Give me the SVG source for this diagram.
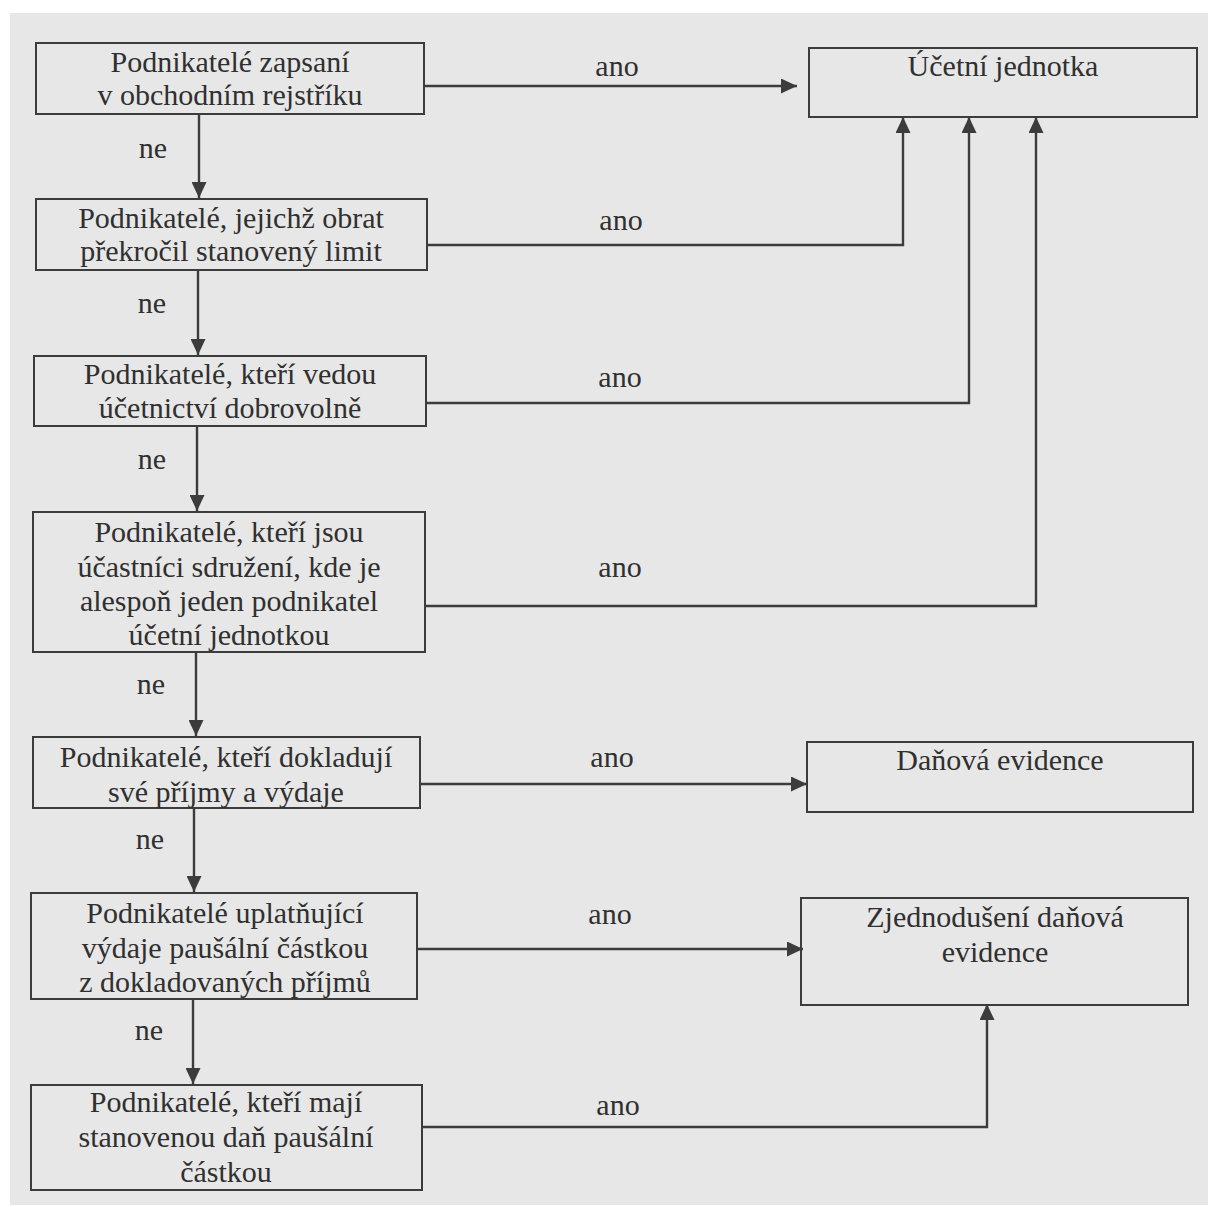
<svg xmlns="http://www.w3.org/2000/svg" width="1208" height="1207" viewBox="0 0 1208 1207">
<defs>
<style>
.box{fill:none;stroke:#3c3c3c;stroke-width:2}
.t{font-family:"Liberation Serif","Times New Roman",serif;font-size:30px;fill:#303030;text-anchor:middle}
.c{fill:none;stroke:#3c3c3c;stroke-width:2.4}
</style>
<marker id="ah" markerUnits="userSpaceOnUse" markerWidth="16" markerHeight="15" refX="16" refY="7.5" orient="auto">
<path d="M0,0 L16,7.5 L0,15 z" fill="#3c3c3c"/>
</marker>
</defs>
<rect x="0" y="0" width="1208" height="1207" fill="#ffffff"/>
<rect x="10" y="13" width="1198" height="1192" fill="#e7e7e7"/>

<g id="n1">
<rect class="box" x="36" y="43" width="388" height="71"/>
<text class="t" x="230" y="72">Podnikatelé zapsaní</text>
<text class="t" x="230" y="105">v obchodním rejstříku</text>
</g>
<g id="n2">
<rect class="box" x="36" y="199" width="391" height="71"/>
<text class="t" x="231" y="228">Podnikatelé, jejichž obrat</text>
<text class="t" x="231" y="261">překročil stanovený limit</text>
</g>
<g id="n3">
<rect class="box" x="34" y="356" width="392" height="70"/>
<text class="t" x="230" y="384">Podnikatelé, kteří vedou</text>
<text class="t" x="230" y="418">účetnictví dobrovolně</text>
</g>
<g id="n4">
<rect class="box" x="33" y="512" width="392" height="140"/>
<text class="t" x="229" y="542">Podnikatelé, kteří jsou</text>
<text class="t" x="229" y="577">účastníci sdružení, kde je</text>
<text class="t" x="229" y="611">alespoň jeden podnikatel</text>
<text class="t" x="229" y="645">účetní jednotkou</text>
</g>
<g id="n5">
<rect class="box" x="33" y="737" width="387" height="71"/>
<text class="t" x="226" y="767">Podnikatelé, kteří dokladují</text>
<text class="t" x="226" y="802">své příjmy a výdaje</text>
</g>
<g id="n6">
<rect class="box" x="31" y="893" width="386" height="106"/>
<text class="t" x="225" y="923">Podnikatelé uplatňující</text>
<text class="t" x="225" y="958">výdaje paušální částkou</text>
<text class="t" x="225" y="992">z dokladovaných příjmů</text>
</g>
<g id="n7">
<rect class="box" x="31" y="1085" width="391" height="105"/>
<text class="t" x="226" y="1112">Podnikatelé, kteří mají</text>
<text class="t" x="226" y="1147">stanovenou daň paušální</text>
<text class="t" x="226" y="1182">částkou</text>
</g>
<g id="r1">
<rect class="box" x="809" y="48" width="388" height="69"/>
<text class="t" x="1003" y="76">Účetní jednotka</text>
</g>
<g id="r2">
<rect class="box" x="807" y="742" width="386" height="70"/>
<text class="t" x="1000" y="770">Daňová evidence</text>
</g>
<g id="r3">
<rect class="box" x="801" y="898" width="387" height="107"/>
<text class="t" x="995" y="927">Zjednodušení daňová</text>
<text class="t" x="995" y="962">evidence</text>
</g>

<g id="connectors">
<path class="c" d="M199,114 V198" marker-end="url(#ah)"/>
<path class="c" d="M198,270 V355" marker-end="url(#ah)"/>
<path class="c" d="M197,426 V511" marker-end="url(#ah)"/>
<path class="c" d="M196,652 V736" marker-end="url(#ah)"/>
<path class="c" d="M194,808 V892" marker-end="url(#ah)"/>
<path class="c" d="M193,999 V1084" marker-end="url(#ah)"/>
<path class="c" d="M424,86 H797" marker-end="url(#ah)"/>
<path class="c" d="M427,245 H903 V117" marker-end="url(#ah)"/>
<path class="c" d="M426,403 H969 V117" marker-end="url(#ah)"/>
<path class="c" d="M425,606 H1036 V117" marker-end="url(#ah)"/>
<path class="c" d="M420,784 H807" marker-end="url(#ah)"/>
<path class="c" d="M417,949 H803" marker-end="url(#ah)"/>
<path class="c" d="M422,1127 H987 V1004" marker-end="url(#ah)"/>
<text class="t" x="153" y="158">ne</text>
<text class="t" x="152" y="313">ne</text>
<text class="t" x="152" y="469">ne</text>
<text class="t" x="151" y="694">ne</text>
<text class="t" x="150" y="849">ne</text>
<text class="t" x="149" y="1040">ne</text>
<text class="t" x="617" y="76">ano</text>
<text class="t" x="621" y="230">ano</text>
<text class="t" x="620" y="387">ano</text>
<text class="t" x="620" y="577">ano</text>
<text class="t" x="612" y="767">ano</text>
<text class="t" x="610" y="924">ano</text>
<text class="t" x="618" y="1115">ano</text>
</g>
</svg>
